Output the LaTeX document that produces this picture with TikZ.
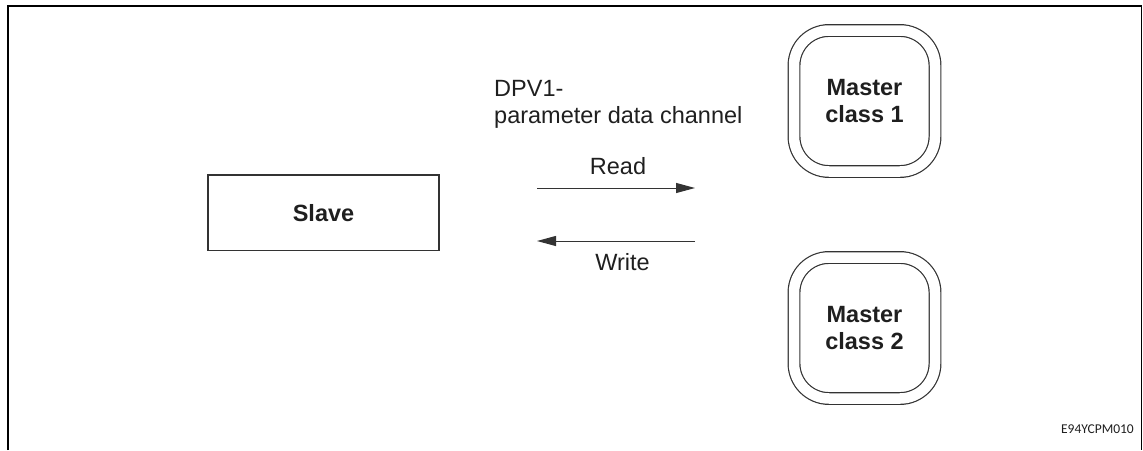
\documentclass[tikz,border=0pt]{standalone}
\usepackage{fontspec}
\setsansfont{Liberation Sans}
\newfontfamily\codefont{Carlito}
\usetikzlibrary{arrows.meta}

\begin{document}
\begin{tikzpicture}[x=1pt, y=-1pt, font=\sffamily\fontsize{23.5}{27}\selectfont,
          >={Triangle[length=19pt, width=10pt]},
          lbl/.style={text=black!88, inner sep=0pt},
          bf/.style={font=\sffamily\bfseries\fontsize{23.5}{27}\selectfont, text=black!88},
          slavebox/.style={bf, draw=black!80, line width=1.2pt, minimum width=231pt, minimum height=75.5pt},
          masterbox/.style={bf, draw=black!80, line width=1.2pt, double=white, double distance=10.5pt,
                            rounded corners=35pt, minimum width=141pt, minimum height=141pt, align=center},
          flow/.style={->, line width=1pt, black!80}]
        \useasboundingbox (0,0) rectangle (1143,450);
        % frame
        \draw[line width=2pt] (7.8,450) -- (7.8,5.8) -- (1141.5,5.8);
        \draw[line width=1.5pt] (1141.5,5.8) -- (1141.5,450);
        \node[slavebox] (slave) at (323.5,212.7) {Slave};
        \node[masterbox] (mc1) at (864.5,101) {Master\\class 1};
        \node[masterbox] (mc2) at (864.5,328) {Master\\class 2};
        \node[lbl, anchor=west, align=left] (chan) at (494,104) {DPV1-\\parameter data channel};
        % read / write
        \coordinate (rd-a) at (537,188);
        \coordinate (rd-b) at (695,188);
        \coordinate (wr-a) at (695,241);
        \coordinate (wr-b) at (537,241);
        \draw[flow] (rd-a) -- (rd-b);
        \draw[flow] (wr-a) -- (wr-b);
        \node[lbl] (read) at (618,166.5) {Read};
        \node[lbl] (write) at (622.5,262) {Write};
        \node[lbl, anchor=base east, font=\codefont\fontsize{13.5}{16}\selectfont] (code) at (1134,433) {E94YCPM010};
      \end{tikzpicture}
\end{document}
